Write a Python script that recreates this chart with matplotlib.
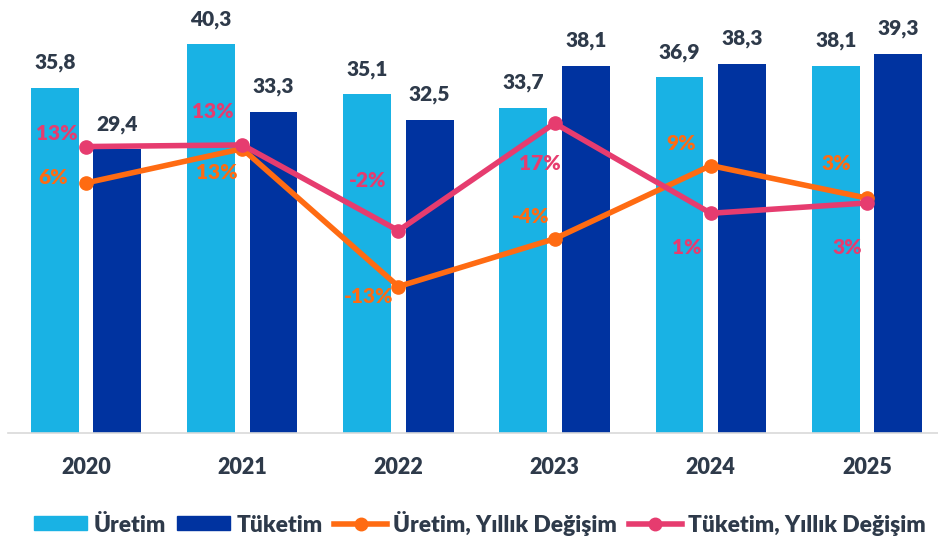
import numpy as np
from matplotlib import pyplot as plt
from matplotlib.lines import Line2D
from matplotlib.patches import Patch

plt.rcParams['font.family'] = ['Lato', 'DejaVu Sans']
plt.rcParams['font.weight'] = 'heavy'

years = ["2020", "2021", "2022", "2023", "2024", "2025"]
uretim = [35.8, 40.3, 35.1, 33.7, 36.9, 38.1]
tuketim = [29.4, 33.3, 32.5, 38.1, 38.3, 39.3]
uretim_deg = [6.1, 12.4, -13.0, -4.2, 9.3, 3.3]
tuketim_deg = [12.8, 13.1, -2.7, 17.1, 0.5, 2.4]
uretim_deg_labels = ["6%", "13%", "-13%", "-4%", "9%", "3%"]
tuketim_deg_labels = ["13%", "13%", "-2%", "17%", "1%", "3%"]

C_URE = "#19B2E4"
C_TUK = "#0033A0"
C_URE_DEG = "#FF6B12"
C_TUK_DEG = "#E63C6F"
C_TEXT = "#2E3A4A"
FW = "heavy"

# label offsets in pixels (dx, dy), dy up positive
ure_off = [(-33, 5), (-25, -24), (-30, -10), (-24, 22), (-30, 22), (-31, 35)]
tuk_off = [(-29, 13), (-29, 33), (-31, 50), (-15, -40), (-24, -34), (-20, -45)]

fig = plt.figure(figsize=(9.38, 5.37), dpi=100)
ax = fig.add_axes([8 / 938, 1 - 433 / 537, 937 / 938, 434 / 537])
ax2 = ax.twinx()

x = np.arange(len(years))
w = 0.307
ax.bar(x - 0.2, uretim, w, color=C_URE, zorder=2)
ax.bar(x + 0.2, tuketim, w, color=C_TUK, zorder=2)
for xi, u, t in zip(x, uretim, tuketim):
    for xx, v in ((xi - 0.2, u), (xi + 0.2, t)):
        ax.annotate(f"{v:.1f}".replace(".", ","), (xx, v), xytext=(0, 19),
                    textcoords="offset pixels", ha="center", va="baseline",
                    fontsize=15, fontweight=FW, color=C_TEXT)

ax.set_xlim(-0.5, 5.5)
ax.set_ylim(0, 45)
ax.set_xticks(x)
ax.set_xticklabels(years, fontsize=15.5, fontweight=FW, color=C_TEXT)
ax.tick_params(axis="x", length=0, pad=17)
ax.set_yticks([])
for s in ("top", "left", "right"):
    ax.spines[s].set_visible(False)
ax.spines["bottom"].set_color("#D9D9D9")
ax.spines["bottom"].set_linewidth(1.2)

ax2.plot(x, uretim_deg, color=C_URE_DEG, lw=4.0, marker="o", ms=9.5, zorder=3)
ax2.plot(x, tuketim_deg, color=C_TUK_DEG, lw=4.0, marker="o", ms=9.5, zorder=4)
ax2.set_ylim(-40, 40)
ax2.set_yticks([])
for s in ax2.spines.values():
    s.set_visible(False)

for xi, v, lab, off in zip(x, uretim_deg, uretim_deg_labels, ure_off):
    ax2.annotate(lab, (xi, v), xytext=off, textcoords="offset pixels",
                 ha="center", va="center", fontsize=15, fontweight=FW,
                 color=C_URE_DEG)
for xi, v, lab, off in zip(x, tuketim_deg, tuketim_deg_labels, tuk_off):
    ax2.annotate(lab, (xi, v), xytext=off, textcoords="offset pixels",
                 ha="center", va="center", fontsize=15, fontweight=FW,
                 color=C_TUK_DEG)

handles = [
    Patch(color=C_URE, label="Üretim"),
    Patch(color=C_TUK, label="Tüketim"),
    Line2D([], [], color=C_URE_DEG, lw=4.0, marker="o", ms=9,
           label="Üretim, Yıllık Değişim"),
    Line2D([], [], color=C_TUK_DEG, lw=4.0, marker="o", ms=9,
           label="Tüketim, Yıllık Değişim"),
]
leg = fig.legend(handles=handles, loc="center", bbox_to_anchor=(480 / 938, 1 - 523 / 537),
                 ncol=4, frameon=False, fontsize=16.4, handlelength=2.33,
                 handleheight=0.57, handletextpad=0.27, columnspacing=0.5)
for t in leg.get_texts():
    t.set_color(C_TEXT)
    t.set_fontweight(FW)

fig.savefig("out.png", dpi=100)
